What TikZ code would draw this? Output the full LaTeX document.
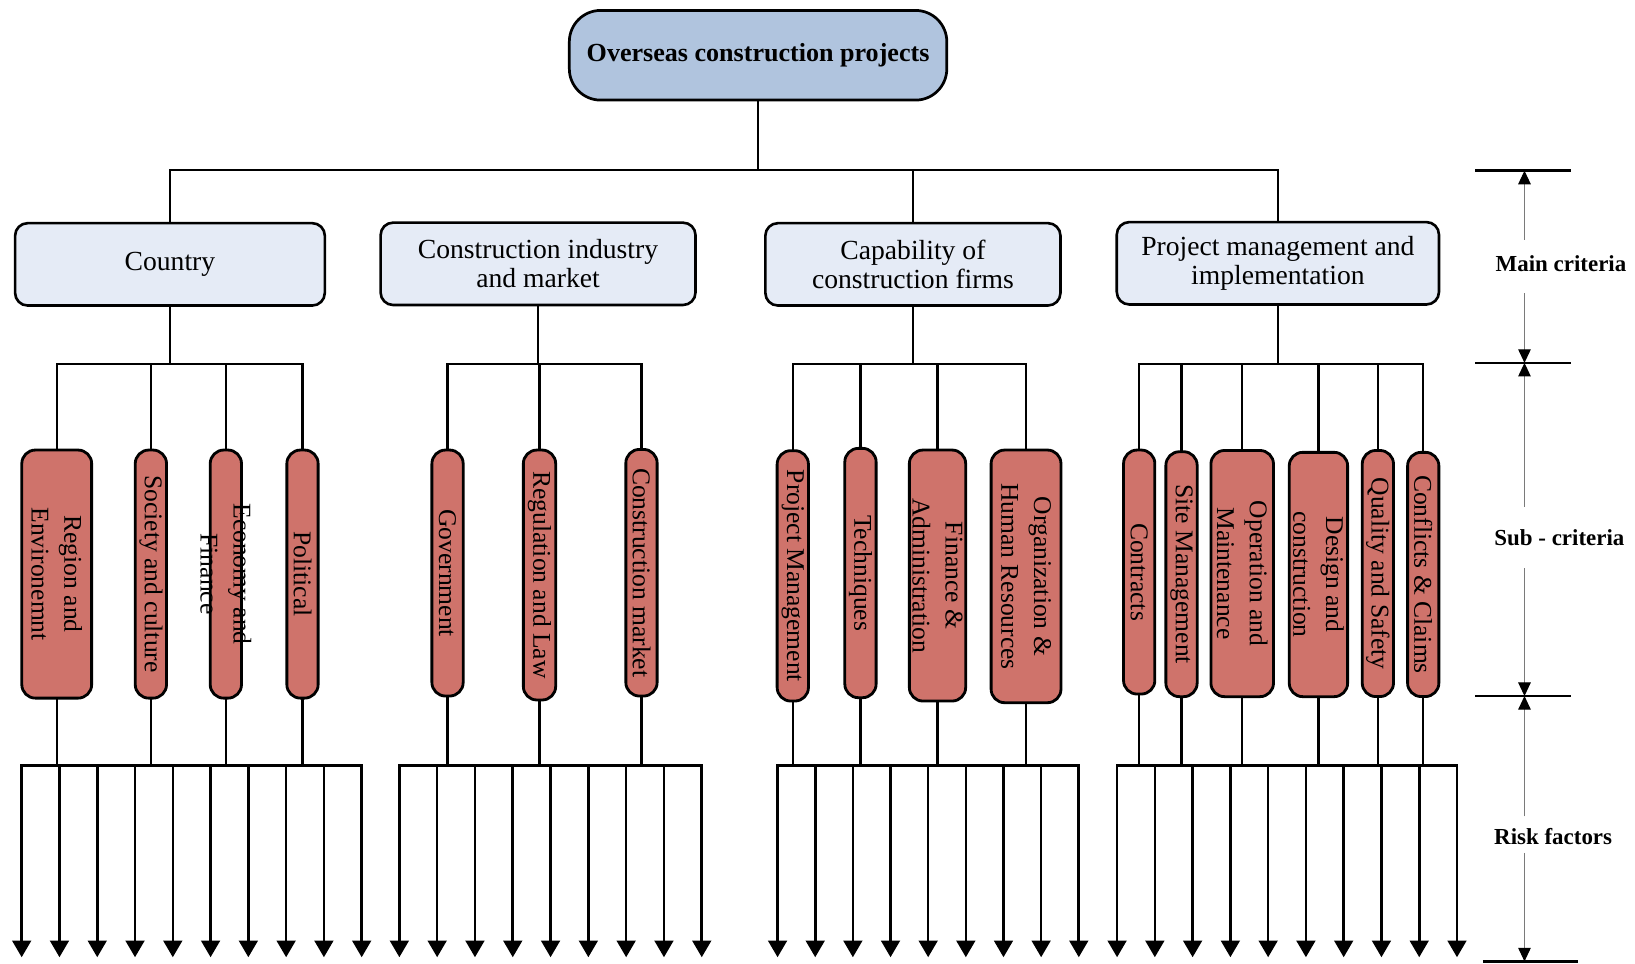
\documentclass[tikz,border=0pt]{standalone}
\usepackage{fontspec}
\setmainfont{Liberation Serif}
\usetikzlibrary{arrows.meta}

\definecolor{topfill}{HTML}{B0C4DE}
\definecolor{mainfill}{HTML}{E5EBF6}
\definecolor{subfill}{HTML}{CF736B}
\definecolor{scalegray}{HTML}{7A7A7A}

% a rounded sub-criterion box with its rotated caption
\newcommand{\SubCrit}[6]{%
  \node[subbox, minimum width=#5pt, minimum height={(#4-#3)*1pt}] (#1) at (#2,{(#3+#4)/2}) {};
  \node[sublabel] (#1-text) at (#1.center) {#6};
}

\begin{document}
\begin{tikzpicture}[x=1pt, y=-1pt,
  conn/.style={line width=2.3pt, line cap=rect},
  busline/.style={line width=2.5pt, line cap=rect},
  topbox/.style={draw, line width=2.6pt, fill=topfill, rounded corners=30pt,
    minimum width=362pt, minimum height=86pt,
    font=\fontsize{25}{28}\selectfont\bfseries},
  mainbox/.style={draw, line width=2.5pt, fill=mainfill, rounded corners=12pt,
    minimum height=79pt, align=center, inner sep=0pt,
    font=\fontsize{26.5}{28}\selectfont},
  subbox/.style={draw, line width=2.7pt, fill=subfill, rounded corners=13pt, inner sep=0pt},
  sublabel/.style={rotate=-90, align=center, inner sep=0pt,
    font=\fontsize{24.5}{31.5}\selectfont},
  leaf/.style={line width=2.5pt, -{Triangle[width=18pt,length=16pt]}},
  tickline/.style={line width=2.5pt},
  levelarrow/.style={draw=scalegray, line width=1pt,
    -{Triangle[width=12pt,length=13pt,color=black]}},
  level/.style={font=\fontsize{22}{26}\selectfont\bfseries, inner sep=0pt}
]
\useasboundingbox (0,0) rectangle (1568,924);

% bus levels
\coordinate (bus)  at (0,163);
\coordinate (sbus) at (0,349);
\coordinate (lbus) at (0,734);

% goal
\node[topbox] (top) at (727,53) {Overseas construction projects};

% main criteria
\node[mainbox, minimum width=297pt] (m1) at (163,253.5) {Country};
\node[mainbox, minimum width=302pt] (m2) at (516,253) {Construction industry\\and market};
\node[mainbox, minimum width=283pt] (m3) at (875.5,253.5) {Capability of\\construction firms};
\node[mainbox, minimum width=309pt] (m4) at (1225.5,252.5) {Project management and\\implementation};

% sub-criteria: name, centre x, top, bottom, width, caption
\SubCrit{s1}{54.4}{431.6}{669.5}{67}{Region and\\Environemnt}
\SubCrit{s2}{144.7}{431.6}{669.5}{30}{Society and culture}
\SubCrit{s3}{216.6}{431.6}{669.5}{30}{Economy and\\Finance}
\SubCrit{s4}{290.1}{431.6}{669.5}{30}{Political}

\SubCrit{s5}{429.2}{431.6}{667.5}{30}{Government}
\SubCrit{s6}{517.4}{431.6}{671.3}{31}{Regulation and Law}
\SubCrit{s7}{615.2}{431}{667.5}{30}{Construction market}

\SubCrit{s8}{760.3}{432.2}{672.3}{30}{Project Management}
\SubCrit{s9}{825.2}{430}{669.1}{30}{Techniques}
\SubCrit{s10}{899.1}{431.6}{672.3}{54}{Finance \&\\Administration}
\SubCrit{s11}{984}{431.6}{673.9}{67}{Organization \&\\Human Resources}

\SubCrit{s12}{1092.5}{431.6}{665.6}{30}{Contracts}
\SubCrit{s13}{1133.1}{433.2}{668.1}{30}{Site Management}
\SubCrit{s14}{1191.3}{432}{668.1}{60}{Operation and\\Maintenance}
\SubCrit{s15}{1264.4}{433.8}{668.1}{56}{Design and\\construction}
\SubCrit{s16}{1321.4}{432}{668}{30}{Quality and Safety}
\SubCrit{s17}{1364.9}{433.8}{668}{30}{Conflicts \& Claims}

% goal to main criteria
\draw[conn] (top.south) -- (top.south |- bus);
\draw[conn] (m1.north |- bus) -- (m4.north |- bus);
\draw[conn] (m1.north |- bus) -- (m1.north);
\draw[conn] (m3.north |- bus) -- (m3.north);
\draw[conn] (m4.north |- bus) -- (m4.north);

% main criteria to sub-criteria
\draw[busline] (m1.south) -- (m1.south |- sbus);
\draw[conn] (s1.north |- sbus) -- (s4.north |- sbus);
\foreach \s in {s1,s2,s3,s4} \draw[conn] (\s.north |- sbus) -- (\s.north);

\draw[busline] (m2.south) -- (m2.south |- sbus);
\draw[conn] (s5.north |- sbus) -- (s7.north |- sbus);
\foreach \s in {s5,s6,s7} \draw[conn] (\s.north |- sbus) -- (\s.north);

\draw[busline] (m3.south) -- (m3.south |- sbus);
\draw[conn] (s8.north |- sbus) -- (s11.north |- sbus);
\foreach \s in {s8,s9,s10,s11} \draw[conn] (\s.north |- sbus) -- (\s.north);

\draw[busline] (m4.south) -- (m4.south |- sbus);
\draw[conn] (s12.north |- sbus) -- (s17.north |- sbus);
\foreach \s in {s12,s13,s14,s15,s16,s17} \draw[conn] (\s.north |- sbus) -- (\s.north);

% sub-criteria down to the risk-factor buses
\foreach \s in {s1,s2,s3,s4,s5,s6,s7,s8,s9,s10,s11,s12,s13,s14,s15,s16,s17}
  \draw[conn] (\s.south) -- (\s.south |- lbus);

% risk factors
\foreach \i in {0,...,9} \coordinate (ra\i) at ({20.8+36.23*\i},918);
\foreach \i in {0,...,8} \coordinate (rb\i) at ({383+36.25*\i},918);
\foreach \i in {0,...,8} \coordinate (rc\i) at ({745.7+36.11*\i},918);
\foreach \i in {0,...,9} \coordinate (rd\i) at ({1071.3+36.22*\i},918);

\draw[busline] (ra0 |- lbus) -- (ra9 |- lbus);
\draw[busline] (rb0 |- lbus) -- (rb8 |- lbus);
\draw[busline] (rc0 |- lbus) -- (rc8 |- lbus);
\draw[busline] (rd0 |- lbus) -- (rd9 |- lbus);

\foreach \i in {0,...,9} \draw[leaf] (ra\i |- lbus) -- (ra\i);
\foreach \i in {0,...,8} \draw[leaf] (rb\i |- lbus) -- (rb\i);
\foreach \i in {0,...,8} \draw[leaf] (rc\i |- lbus) -- (rc\i);
\foreach \i in {0,...,9} \draw[leaf] (rd\i |- lbus) -- (rd\i);

% level scale on the right
\coordinate (t1) at (1462,163.7);
\coordinate (t2) at (1462,348);
\coordinate (t3) at (1462,667.5);
\coordinate (t4) at (1462,922);
\draw[tickline] (1414.6,163.7) -- (1507,163.7);
\draw[tickline] (1414.6,348) -- (1507,348);
\draw[tickline] (1414.6,667.5) -- (1507,667.5);
\draw[tickline] (1422,922) -- (1513.5,922);

\node[level] (lv1) at (1497,253) {Main criteria};
\node[level] (lv2) at (1495.5,516) {Sub - criteria};
\node[level] (lv3) at (1489.5,802) {Risk factors};

\coordinate (ga1) at (1462,230);
\coordinate (ga2) at (1462,281);
\coordinate (gb1) at (1462,486);
\coordinate (gb2) at (1462,545);
\coordinate (gc1) at (1462,783);
\coordinate (gc2) at (1462,818);

\draw[levelarrow] (ga1) -- (t1);
\draw[levelarrow] (ga2) -- (t2);
\draw[levelarrow] (gb1) -- (t2);
\draw[levelarrow] (gb2) -- (t3);
\draw[levelarrow] (gc1) -- (t3);
\draw[levelarrow] (gc2) -- (t4);
\end{tikzpicture}
\end{document}
